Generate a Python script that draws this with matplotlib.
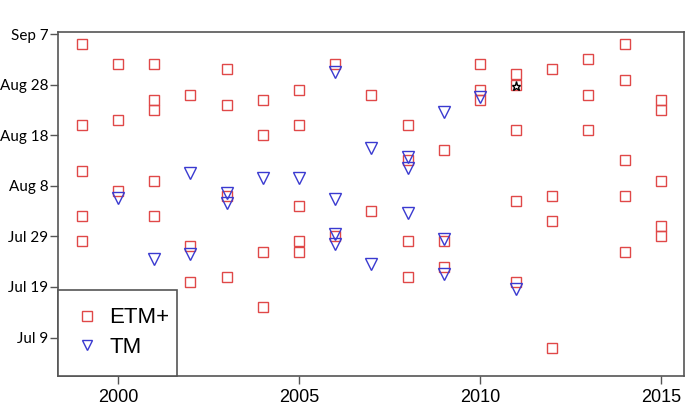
"""Acquisition dates of Landsat ETM+ and TM scenes per year (day of year on y)."""
import matplotlib
matplotlib.use("Agg")
import matplotlib.pyplot as plt
from matplotlib.lines import Line2D

# ----- data (day of year, non-leap) -----
etm_years = ([1999] * 5 + [2000] * 3 + [2001] * 5 + [2002] * 3 + [2003] * 4
             + [2004] * 4 + [2005] * 5 + [2006] * 2 + [2007] * 2 + [2008] * 4
             + [2009] * 3 + [2010] * 3 + [2011] * 5 + [2012] * 4 + [2013] * 3
             + [2014] * 5 + [2015] * 5)
etm_doy = [248, 232, 223, 214, 209,
           244, 233, 219,
           244, 237, 235, 221, 214,
           238, 208, 201,
           243, 236, 218, 202,
           237, 230, 207, 196,
           239, 232, 216, 209, 207,
           244, 210,
           238, 215,
           232, 225, 209, 202,
           227, 209, 204,
           244, 239, 237,
           242, 240, 231, 217, 201,
           243, 218, 213, 188,
           245, 238, 231,
           248, 241, 225, 218, 207,
           237, 235, 221, 212, 210]

tm_years = [2000, 2001, 2002, 2002, 2003, 2003, 2004, 2005,
            2006, 2006, 2006, 2006, 2007, 2007, 2008, 2008, 2008,
            2009, 2009, 2009, 2010, 2011]
tm_doy = [217.5, 205.5, 222.5, 206.5, 218.6, 216.5, 221.5, 221.5,
          242.5, 217.4, 210.5, 208.4, 227.5, 204.5, 225.6, 223.5, 214.6,
          234.5, 209.5, 202.6, 237.5, 199.5]

star_year = [2011]
star_doy = [239.8]

ytick_pos = [190, 200, 210, 220, 230, 240, 250]
ytick_lab = ["Jul 9", "Jul 19", "Jul 29", "Aug 8", "Aug 18", "Aug 28", "Sep 7"]
xtick_pos = [2000, 2005, 2010, 2015]

RED = "#e04848"
BLUE = "#3a3ad0"
SPINE = "#555555"


def main():
    fig = plt.figure(figsize=(6.85, 4.04), dpi=100)
    ax = fig.add_axes([58 / 685, 28 / 404, 626 / 685, 344 / 404])

    ax.plot(etm_years, etm_doy, ls="none", marker="s", ms=6.8, mfc="none",
            mec=RED, mew=1.0)
    ax.plot(tm_years, tm_doy, ls="none", marker="v", ms=9.0, mfc="none",
            mec=BLUE, mew=1.0)
    ax.plot(star_year, star_doy, ls="none", marker="*", ms=6.5, mfc="none",
            mec="black", mew=1.0)

    ax.set_xlim(1998.34, 2015.64)
    ax.set_ylim(182.4, 250.4)
    ax.set_xticks(xtick_pos)
    ax.set_xticklabels([str(x) for x in xtick_pos], fontsize=13,
                       family="Liberation Sans")
    ax.set_yticks(ytick_pos)
    ax.set_yticklabels(ytick_lab, fontsize=11, family="Lato")
    ax.tick_params(length=6, width=1.0, color=SPINE, pad=3)
    ax.tick_params(axis="y", length=5.5, pad=1.5)
    for s in ax.spines.values():
        s.set_color(SPINE)
        s.set_linewidth(1.2)

    handles = [
        Line2D([], [], ls="none", marker="s", ms=7.2, mfc="none", mec=RED, mew=1.0),
        Line2D([], [], ls="none", marker="v", ms=7.5, mfc="none", mec=BLUE, mew=1.0),
    ]
    leg = ax.legend(handles, ["ETM+", "TM"], loc="lower left",
                    bbox_to_anchor=(0, 0, 119 / 626, 1), mode="expand",
                    borderaxespad=0, fancybox=False, framealpha=1,
                    edgecolor=SPINE, prop={"family": "Liberation Sans", "size": 16},
                    handlelength=1.0, handletextpad=0.5, borderpad=0.8,
                    labelspacing=0.4)
    leg.get_frame().set_linewidth(1.2)

    fig.savefig("out.png", dpi=100)
    plt.close(fig)
    return 0


if __name__ == "__main__":
    raise SystemExit(main())
